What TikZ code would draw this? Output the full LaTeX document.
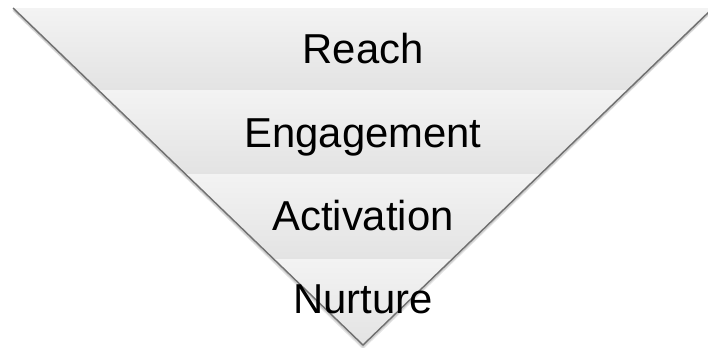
\documentclass[tikz,border=0pt]{standalone}
\usepackage{fontspec}
\setmainfont{Liberation Sans}
\begin{document}
\begin{tikzpicture}[x=1bp,y=-1bp,
  band/.style={top color=bandtop,bottom color=bandbot},
  label/.style={font=\fontsize{42}{48}\selectfont,text=black,inner sep=0pt,anchor=base},
  edgeline/.style={draw=edgegray,line width=1.4bp},
  edgeshadow/.style={draw=black,line width=3.5bp,opacity=0.10}]
\definecolor{bandtop}{HTML}{F3F3F3}
\definecolor{bandbot}{HTML}{E3E3E3}
\definecolor{edgegray}{HTML}{707070}
\useasboundingbox (0,0) rectangle (708,347);
\clip (0,0) rectangle (708,347);
\fill[white] (0,0) rectangle (708,347);
% corners of the funnel
\coordinate (tl) at (13,8);
\coordinate (tr) at (713,8);
\coordinate (ap) at (363,345);
\begin{scope}
  \clip (tl) -- (tr) -- (ap) -- cycle;
  \fill[band] (0,8) rectangle (720,90);
  \fill[band] (0,90) rectangle (720,174);
  \fill[band] (0,174) rectangle (720,259);
  \fill[band] (0,259) rectangle (720,346);
\end{scope}
% soft shadow along the slanted sides
\draw[edgeshadow] ([shift={(1,2)}]tl) -- ([shift={(0,2)}]ap) -- ([shift={(-1,2)}]tr);
\draw[edgeshadow,line width=1.8bp] ([shift={(0,1.5)}]tl) -- ([shift={(0,1.5)}]ap) -- ([shift={(0,1.5)}]tr);
\draw[edgeline] (tl) -- (ap) -- (tr);
% labels
\node[label] (reach) at (363,63) {Reach};
\node[label] (engagement) at (363,147) {Engagement};
\node[label] (activation) at (363,230) {Activation};
\node[label] (nurture) at (363,313) {Nurture};
\end{tikzpicture}
\end{document}
